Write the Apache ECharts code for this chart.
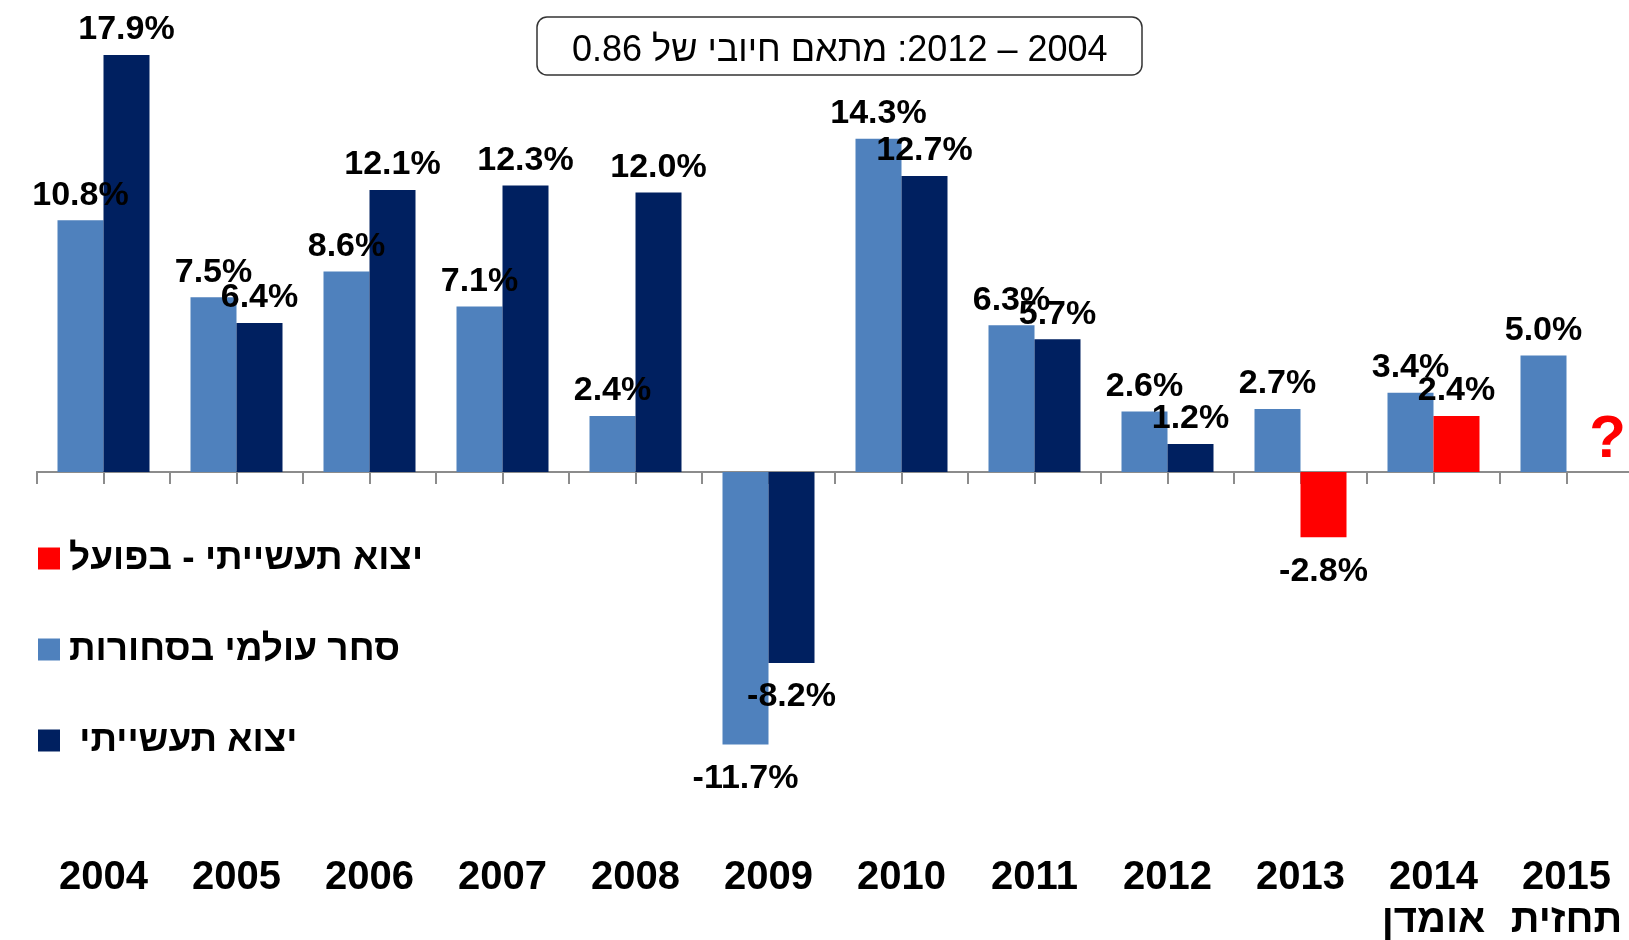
<!DOCTYPE html>
<html>
<head>
<meta charset="utf-8">
<script src="https://cdn.jsdelivr.net/npm/echarts@6/dist/echarts.min.js"></script>
<style>
html,body{margin:0;padding:0;background:#fff;}
#main{width:1629px;height:940px;}
</style>
</head>
<body>
<div id="main"></div>
<script>
var years=['2004','2005','2006','2007','2008','2009','2010','2011','2012','2013','2014\nאומדן','2015\nתחזית'];
var worldTrade=[10.8,7.5,8.6,7.1,2.4,-11.7,14.3,6.3,2.6,2.7,3.4,5.0];
var industrialExports=[17.9,6.4,12.1,12.3,12.0,-8.2,12.7,5.7,1.2,null,null,null];
var exportsActual=[null,null,null,null,null,null,null,null,null,-2.8,2.4,null];
var forecastMark='?';

var nameTrade='סחר עולמי בסחורות';
var nameExports=' יצוא תעשייתי';
var nameActual='יצוא תעשייתי - בפועל';
var titleText='\u202B2004 – 2012: מתאם חיובי של 0.86\u202C';

var font="'Liberation Sans', Arial, sans-serif";
var axisGray='#8c8c8c';

// negative bars get their label below the bar
function toItems(arr){
    return arr.map(function(v){
        if(v==null) return null;
        return {value:v,label:v<0?{position:'bottom',distance:17}:{position:'top',distance:8}};
    });
}
var valueLabel={
    show:true,
    color:'#000',
    fontSize:34,
    fontWeight:'bold',
    fontFamily:font,
    formatter:function(p){return p.value.toFixed(1)+'%';}
};

var Myecharts=echarts.init(document.getElementById('main'));
var option={
    animation:false,
    title:{
        text:titleText,
        left:537,
        top:17,
        padding:[16,35,6,35],
        borderWidth:1.5,
        borderColor:'#333',
        borderRadius:10,
        textStyle:{fontSize:36,fontWeight:'normal',color:'#000',fontFamily:font}
    },
    legend:{
        orient:'vertical',
        left:38,
        top:540,
        padding:0,
        itemWidth:22,
        itemHeight:22,
        itemGap:54,
        icon:'rect',
        data:[nameActual,nameTrade,nameExports],
        textStyle:{fontSize:37,fontWeight:'bold',color:'#000',fontFamily:font,padding:[0,0,0,4]}
    },
    grid:{left:37,right:-4,top:6,bottom:118.5,outerBoundsMode:'none'},
    xAxis:[{
        type:'category',
        data:years,
        position:'bottom',
        axisLine:{onZero:true,lineStyle:{color:axisGray,width:2}},
        axisTick:{show:true,interval:0,length:12,lineStyle:{color:axisGray,width:2}},
        axisLabel:{show:false}
    },{
        // second tick row, between the paired bars
        type:'category',
        data:years,
        position:'bottom',
        axisLine:{show:true,onZero:true,onZeroAxisIndex:0,lineStyle:{color:axisGray,width:2}},
        axisTick:{show:true,interval:0,alignWithLabel:true,length:12,lineStyle:{color:axisGray,width:2}},
        axisLabel:{show:false}
    },{
        type:'category',
        data:years,
        position:'bottom',
        axisLine:{show:false,onZero:false},
        axisTick:{show:false},
        axisLabel:{
            interval:0,
            margin:35,
            fontSize:40,
            lineHeight:43,
            fontWeight:'bold',
            color:'#000',
            fontFamily:font
        }
    }],
    yAxis:{
        type:'value',
        min:-15,
        max:20,
        show:false,
        splitLine:{show:false}
    },
    series:[{
        name:nameTrade,
        type:'bar',
        xAxisIndex:0,
        barWidth:46,
        barGap:'0%',
        itemStyle:{color:'#4F81BD'},
        label:valueLabel,
        data:toItems(worldTrade)
    },{
        name:nameExports,
        type:'bar',
        xAxisIndex:0,
        stack:'exports',
        barWidth:46,
        barGap:'0%',
        itemStyle:{color:'#002060'},
        label:valueLabel,
        data:toItems(industrialExports)
    },{
        name:nameActual,
        type:'bar',
        xAxisIndex:0,
        stack:'exports',
        barWidth:46,
        barGap:'0%',
        itemStyle:{color:'#FF0000'},
        label:valueLabel,
        data:toItems(exportsActual),
        markPoint:{
            symbol:'rect',
            symbolSize:1,
            itemStyle:{color:'rgba(0,0,0,0)'},
            label:{
                show:true,
                position:'inside',
                formatter:forecastMark,
                offset:[18,-32],
                color:'#FF0000',
                fontSize:60,
                fontWeight:'bold',
                fontFamily:font
            },
            data:[{coord:[years[11],0]}]
        }
    }]
};
Myecharts.setOption(option);
</script>
</body>
</html>
